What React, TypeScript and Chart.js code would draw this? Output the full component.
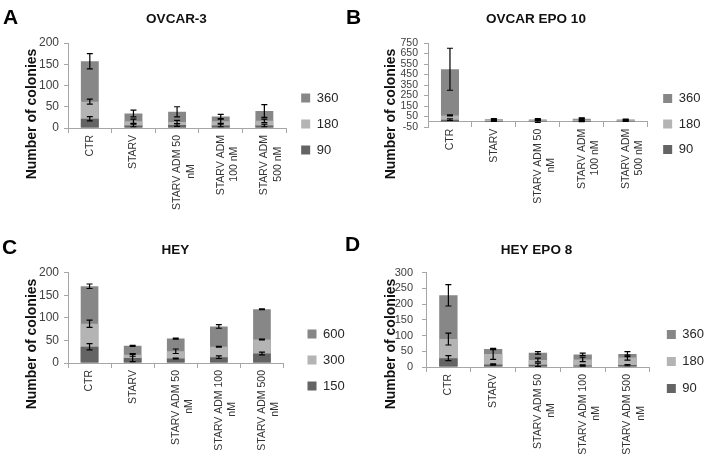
import React, { useEffect, useRef } from 'react';
import { Chart, registerables } from 'chart.js';

Chart.register(...registerables);

const FONT = '"Liberation Sans", Arial, sans-serif';

// ---------- categories ----------
const categoriesAB = ['CTR', 'STARV', ['STARV ADM 50', 'nM          '], ['STARV ADM', '100 nM    '], ['STARV ADM', '500 nM    ']];
const categoriesCD = ['CTR', 'STARV', ['STARV ADM 50', 'nM          '], ['STARV ADM 100', 'nM           '], ['STARV ADM 500', 'nM           ']];

// ---------- Panel A: OVCAR-3 ----------
const ovcar3Series = ['90', '180', '360'];
const ovcar3_90 = [22, 6, 7, 6, 6];
const ovcar3_90Err = [5, 3, 3, 3, 3];
const ovcar3_180 = [62, 16, 14, 16, 17];
const ovcar3_180Err = [6, 5, 4, 5, 4];
const ovcar3_360 = [157, 34, 38, 27, 40];
const ovcar3_360Err = [18, 8, 12, 5, 15];
const ovcar3Ticks = [0, 50, 100, 150, 200];

// ---------- Panel B: OVCAR EPO 10 ----------
const epo10Series = ['90', '180', '360'];
const epo10_90 = [20, 6, 5, 6, 5];
const epo10_90Err = [8, 3, 12, 4, 2];
const epo10_180 = [60, 18, 14, 20, 14];
const epo10_180Err = [5, 4, 6, 12, 3];
const epo10_360 = [500, 25, 22, 28, 22];
const epo10_360Err = [200, 6, 8, 8, 4];
const epo10Ticks = [-50, 50, 150, 250, 350, 450, 550, 650, 750];

// ---------- Panel C: HEY ----------
const heySeries = ['150', '300', '600'];
const hey_150 = [36, 11, 10, 13, 21];
const hey_150Err = [7, 8, 1, 3, 3];
const hey_300 = [87, 18, 26, 36, 52];
const hey_300Err = [8, 3, 5, 1, 1];
const hey_600 = [170, 38, 54, 81, 119];
const hey_600Err = [5, 1, 1, 4, 1];
const heyTicks = [0, 50, 100, 150, 200];

// ---------- Panel D: HEY EPO 8 ----------
const epo8Series = ['90', '180', '360'];
const epo8_90 = [28, 8, 7, 5, 6];
const epo8_90Err = [8, 2, 5, 2, 2];
const epo8_180 = [89, 41, 22, 24, 30];
const epo8_180Err = [19, 17, 6, 7, 8];
const epo8_360 = [228, 57, 45, 40, 41];
const epo8_360Err = [34, 2, 4, 4, 8];
const epo8Ticks = [0, 50, 100, 150, 200, 250, 300];

const COLORS = ['#646464', '#b4b4b4', '#878787'];
const AXIS = '#a6a6a6';

const errorBars = {
  id: 'errorBars',
  afterDatasetsDraw(chart: any) {
    const ctx = chart.ctx;
    const y = chart.scales.y;
    chart.data.datasets.forEach((ds: any, i: number) => {
      const meta = chart.getDatasetMeta(i);
      meta.data.forEach((bar: any, j: number) => {
        const v = ds.data[j];
        const e = ds.errors[j];
        const top = y.getPixelForValue(v + e);
        const bot = y.getPixelForValue(v - e);
        ctx.save();
        ctx.strokeStyle = '#000';
        ctx.lineWidth = 1.2;
        ctx.beginPath();
        ctx.moveTo(bar.x, top);
        ctx.lineTo(bar.x, bot);
        ctx.moveTo(bar.x - 3, top);
        ctx.lineTo(bar.x + 3, top);
        ctx.moveTo(bar.x - 3, bot);
        ctx.lineTo(bar.x + 3, bot);
        ctx.stroke();
        ctx.restore();
      });
    });
  },
};

type PanelCfg = {
  title: string;
  labels: any[];
  series: string[];
  values: number[][];
  errors: number[][];
  ticks: number[];
  left: number; top: number; w: number; h: number;
  pl: number; yW: number; dW: number; xH: number;
  lp: number; ta: number; tb: number;
  yFont: number; yPad: number;
  xAtZero?: boolean;
};

const panels: PanelCfg[] = [
  {
    title: 'OVCAR-3', labels: categoriesAB, series: ovcar3Series,
    values: [ovcar3_90, ovcar3_180, ovcar3_360], errors: [ovcar3_90Err, ovcar3_180Err, ovcar3_360Err],
    ticks: ovcar3Ticks,
    left: 0, top: 0, w: 344, h: 248, pl: 9, yW: 59, dW: 2, xH: 120, lp: 13, ta: 11.4, tb: 15.4,
    yFont: 12, yPad: 5,
  },
  {
    title: 'OVCAR EPO 10', labels: categoriesAB, series: epo10Series,
    values: [epo10_90, epo10_180, epo10_360], errors: [epo10_90Err, epo10_180Err, epo10_360Err],
    ticks: epo10Ticks,
    left: 354, top: 0, w: 354, h: 248, pl: 10, yW: 64, dW: 3, xH: 121, lp: 12.5, ta: 11.4, tb: 15.4,
    yFont: 10.5, yPad: 6, xAtZero: true,
  },
  {
    title: 'HEY', labels: categoriesCD, series: heySeries,
    values: [hey_150, hey_300, hey_600], errors: [hey_150Err, hey_300Err, hey_600Err],
    ticks: heyTicks,
    left: -5, top: 230, w: 359, h: 260, pl: 2, yW: 71, dW: 11, xH: 127, lp: 13, ta: 11.9, tb: 14.6,
    yFont: 12, yPad: 5,
  },
  {
    title: 'HEY EPO 8', labels: categoriesCD, series: epo8Series,
    values: [epo8_90, epo8_180, epo8_360], errors: [epo8_90Err, epo8_180Err, epo8_360Err],
    ticks: epo8Ticks,
    left: 354, top: 230, w: 357, h: 263, pl: 8, yW: 64, dW: 3, xH: 126, lp: 14, ta: 11.9, tb: 14.6,
    yFont: 11, yPad: 9,
  },
];

function Panel({ cfg }: { cfg: PanelCfg }) {
  const ref = useRef<HTMLCanvasElement>(null);
  useEffect(() => {
    const t = cfg.ticks;
    const scales: any = {
      x: {
        stacked: true,
        position: cfg.xAtZero ? { y: 0 } : 'bottom',
        offset: true,
        grid: { drawOnChartArea: false, tickLength: 5, color: AXIS, offset: true },
        border: { color: AXIS },
        ticks: {
          minRotation: 90, maxRotation: 90, autoSkip: false, padding: 2, color: '#333',
          font: { family: FONT, size: 10.5, lineHeight: 1.3 },
        },
        afterFit: cfg.xAtZero ? undefined : (s: any) => { s.height = cfg.xH; },
      },
      y: {
        stacked: false,
        min: t[0], max: t[t.length - 1],
        ticks: {
          stepSize: t[1] - t[0], autoSkip: false, padding: cfg.yPad, color: '#404040',
          font: { family: FONT, size: cfg.yFont },
        },
        grid: { drawOnChartArea: false, tickLength: 4, color: AXIS },
        border: { color: AXIS },
        afterFit: (s: any) => { s.width = cfg.yW; },
      },
      pad: {
        type: 'linear', position: 'right', display: true,
        grid: { display: false }, ticks: { display: false }, border: { display: false },
        afterFit: (s: any) => { s.width = cfg.dW; },
      },
    };
    if (cfg.xAtZero) {
      scales.xpad = {
        type: 'linear', position: 'bottom', display: true,
        grid: { display: false }, ticks: { display: false }, border: { display: false },
        afterFit: (s: any) => { s.height = cfg.xH; },
      };
    }
    const chart = new Chart(ref.current as HTMLCanvasElement, {
      type: 'bar',
      data: {
        labels: cfg.labels,
        datasets: cfg.series.map((s, i) => ({
          label: s,
          data: cfg.values[i],
          errors: cfg.errors[i],
          backgroundColor: COLORS[i],
          borderWidth: 0,
          categoryPercentage: 0.82,
          barPercentage: 0.5,
        })) as any,
      },
      options: {
        responsive: false,
        animation: false,
        devicePixelRatio: 1,
        layout: { padding: { left: cfg.pl, right: 0, top: 0, bottom: 0 } },
        plugins: {
          title: {
            display: true, text: cfg.title, color: '#111',
            font: { family: FONT, size: 13.5, weight: 'bold' },
            padding: { top: cfg.ta, bottom: cfg.tb },
          },
          legend: {
            position: 'right', reverse: true,
            labels: { boxWidth: 9, boxHeight: 9, padding: cfg.lp, color: '#262626', font: { family: FONT, size: 13 } },
          },
          tooltip: { enabled: false },
        },
        scales,
      } as any,
      plugins: [errorBars],
    });
    return () => chart.destroy();
  }, []);
  return (
    <canvas
      ref={ref}
      width={cfg.w}
      height={cfg.h}
      style={{ position: 'absolute', left: cfg.left, top: cfg.top, width: cfg.w, height: cfg.h }}
    />
  );
}

const letters = [
  { t: 'A', x: 3, y: 5.5 },
  { t: 'B', x: 346, y: 5.5 },
  { t: 'C', x: 2, y: 235.5 },
  { t: 'D', x: 345, y: 232.5 },
];
const yTitles = [
  { x: 31, y: 113.5 },
  { x: 390, y: 113.5 },
  { x: 31, y: 343.5 },
  { x: 390, y: 343.5 },
];

export default function App() {
  return (
    <div style={{ position: 'fixed', left: 0, top: 0, width: 708, height: 460, overflow: 'hidden', background: '#fff' }}>
      {panels.map((p, i) => <Panel key={i} cfg={p} />)}
      {letters.map((l, i) => (
        <div key={'l' + i} style={{ position: 'absolute', left: l.x, top: l.y, fontFamily: FONT, fontWeight: 'bold', fontSize: 21, lineHeight: 1, color: '#000' }}>{l.t}</div>
      ))}
      {yTitles.map((p, i) => (
        <div key={'y' + i} style={{ position: 'absolute', left: p.x, top: p.y, transform: 'translate(-50%, -50%) rotate(-90deg)', whiteSpace: 'nowrap', fontFamily: FONT, fontWeight: 'bold', fontSize: 14, lineHeight: 1, color: '#111' }}>Number of colonies</div>
      ))}
    </div>
  );
}
